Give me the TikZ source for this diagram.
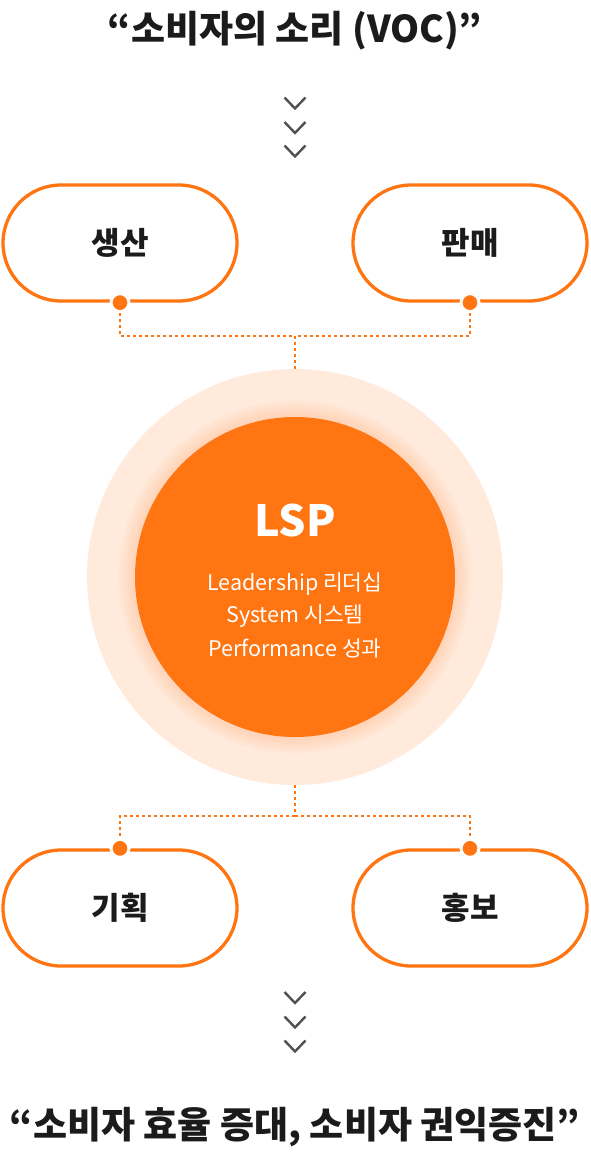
\documentclass[tikz,border=0pt]{standalone}
\usepackage{fontspec}
\setmainfont{Noto Sans CJK KR}
\usetikzlibrary{shapes.misc}
\definecolor{org}{HTML}{FF7512}
\definecolor{halo}{HTML}{FFEADB}
\definecolor{ink}{HTML}{1B1B1B}
\definecolor{chevgray}{HTML}{505050}
\tikzset{
  pill/.style={rounded rectangle, draw=org, line width=3.3pt, fill=white,
    minimum width=234pt, minimum height=116pt, inner sep=0pt,
    text=ink, font=\fontsize{31}{34}\selectfont\bfseries},
  dotnode/.style={circle, fill=org, draw=white, line width=3pt,
    minimum size=18pt, inner sep=0pt},
  dotline/.style={draw=org, line width=2pt, dash pattern=on 3pt off 3pt},
  chev/.style={draw=chevgray, line width=2.4pt},
  titletext/.style={text=ink, font=\fontsize{37}{40}\selectfont\bfseries},
  subtext/.style={text=white, font=\fontsize{21.5}{24}\selectfont}
}
\begin{document}
\begin{tikzpicture}[x=1pt,y=-1pt]
\useasboundingbox (0,0) rectangle (590,1152);
% titles
\node[titletext] (t1) at (295,31) {“소비자의 소리 (VOC)”};
\node[titletext] (t2) at (295,1127) {“소비자 효율 증대, 소비자 권익증진”};
% chevrons
\foreach \cy in {103,127.5,151,997.5,1022,1046}{
  \draw[chev] (284.5,\cy-5.5) -- (295,\cy+5.5) -- (305.5,\cy-5.5);
}
% central circles
\node[circle, fill=halo, minimum size=416pt, inner sep=0pt] (halo) at (295,577) {};
\foreach \r in {176,173,170,167,164}{
  \fill[org, opacity=0.03] (295,577) circle (\r);
}
\node[circle, fill=org, minimum size=320pt, inner sep=0pt] (core) at (295,577) {};
\node[text=white, font=\fontsize{43}{46}\selectfont\bfseries] (lsp) at (295,520) {LSP};
\node[subtext] (l1) at (295,584) {Leadership 리더십};
\node[subtext] (l2) at (295,616) {System 시스템};
\node[subtext] (l3) at (295,648) {Performance 성과};
% pills
\node[pill] (sa) at (120,243) {생산};
\node[pill] (pa) at (470,243) {판매};
\node[pill] (gi) at (120,908) {기획};
\node[pill] (ho) at (470,908) {홍보};
% dots
\node[dotnode] (d1) at (sa.south) {};
\node[dotnode] (d2) at (pa.south) {};
\node[dotnode] (d3) at (gi.north) {};
\node[dotnode] (d4) at (ho.north) {};
% connectors
\coordinate (jt) at (295,336);
\coordinate (jb) at (295,816);
\draw[dotline] (d1.south) |- (jt);
\draw[dotline] (d2.south) |- (jt);
\draw[dotline] (jt) -- (halo.north);
\draw[dotline] (halo.south) -- (jb);
\draw[dotline] (jb) -| (d3.north);
\draw[dotline] (jb) -| (d4.north);
\end{tikzpicture}
\end{document}
